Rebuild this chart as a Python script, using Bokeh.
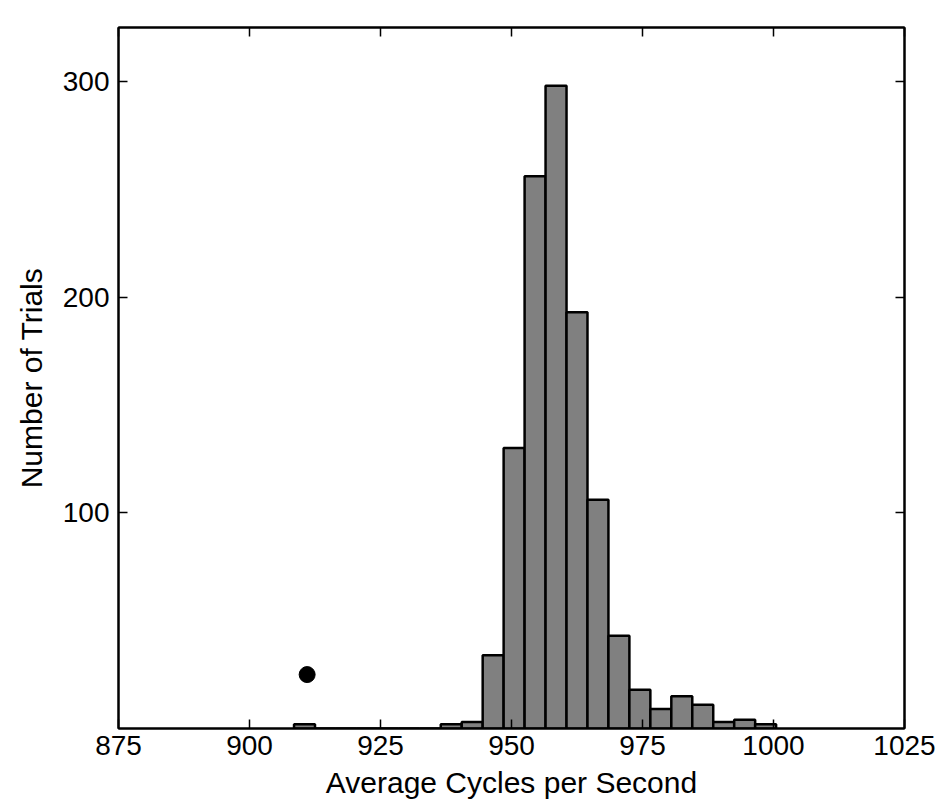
from bokeh.plotting import figure
from bokeh.models import Range1d, FixedTicker, LinearAxis, ColumnDataSource
from bokeh.embed import file_html
from bokeh.resources import INLINE

# ---- data ----
bin_centers = [910.5, 914.5, 918.5, 922.5, 926.5, 930.5, 934.5, 938.5, 942.5,
               946.5, 950.5, 954.5, 958.5, 962.5, 966.5, 970.5, 974.5, 978.5,
               982.5, 986.5, 990.5, 994.5, 998.5]
counts = [2, 0, 0, 0, 0, 0, 0, 2, 3,
          34, 130, 256, 298, 193, 106, 43, 18, 9,
          15, 11, 3, 4, 2]
bin_width = 4
marker_x = [911]
marker_y = [25]
x_ticks = [875, 900, 925, 950, 975, 1000, 1025]
y_ticks = [100, 200, 300]
x_label = "Average Cycles per Second"
y_label = "Number of Trials"

FONT = "Liberation Sans"

src = ColumnDataSource(dict(
    left=[c - bin_width / 2 for c in bin_centers],
    right=[c + bin_width / 2 for c in bin_centers],
    top=counts,
    bottom=[0] * len(counts),
))

p = figure(width=943, height=801, output_backend="svg", toolbar_location=None,
           x_range=Range1d(875, 1025), y_range=Range1d(0, 325),
           min_border_left=118, min_border_top=27, min_border_right=39,
           min_border_bottom=73, background_fill_color="white",
           border_fill_color="white")
p.grid.visible = False
p.outline_line_color = "black"
p.outline_line_width = 2

p.quad(left="left", right="right", top="top", bottom="bottom", source=src,
       fill_color="#808080", line_color="black", line_width=2.5)
p.scatter(marker_x, marker_y, size=16, marker="circle", fill_color="black",
          line_color="black")

def style(ax, labels=True):
    ax.axis_line_color = "black"
    ax.axis_line_width = 2
    ax.major_tick_in = 9
    ax.major_tick_out = 0
    ax.major_tick_line_width = 1.5
    ax.minor_tick_line_color = None
    ax.major_label_text_font = FONT
    ax.major_label_text_color = "black"
    if labels:
        ax.major_label_text_font_size = "28px"
    else:
        ax.major_label_text_font_size = "8px"
        ax.major_label_text_color = None
        ax.major_label_standoff = 0

xa = p.xaxis[0]
xa.ticker = FixedTicker(ticks=x_ticks)
style(xa)
xa.major_label_standoff = 7
xa.axis_label = x_label
xa.axis_label_text_font = FONT
xa.axis_label_text_font_size = "30px"
xa.axis_label_text_font_style = "normal"
xa.axis_label_text_color = "black"
xa.axis_label_standoff = 8

ya = p.yaxis[0]
ya.ticker = FixedTicker(ticks=y_ticks)
style(ya)
ya.major_label_standoff = 9
ya.major_label_orientation = "horizontal"
ya.axis_label = y_label
ya.axis_label_text_font = FONT
ya.axis_label_text_font_size = "30px"
ya.axis_label_text_font_style = "normal"
ya.axis_label_text_color = "black"
ya.axis_label_standoff = 12

top_ax = LinearAxis(ticker=FixedTicker(ticks=x_ticks))
style(top_ax, labels=False)
p.add_layout(top_ax, "above")
right_ax = LinearAxis(ticker=FixedTicker(ticks=y_ticks))
style(right_ax, labels=False)
p.add_layout(right_ax, "right")

open("out.html", "w").write(file_html(p, INLINE))
